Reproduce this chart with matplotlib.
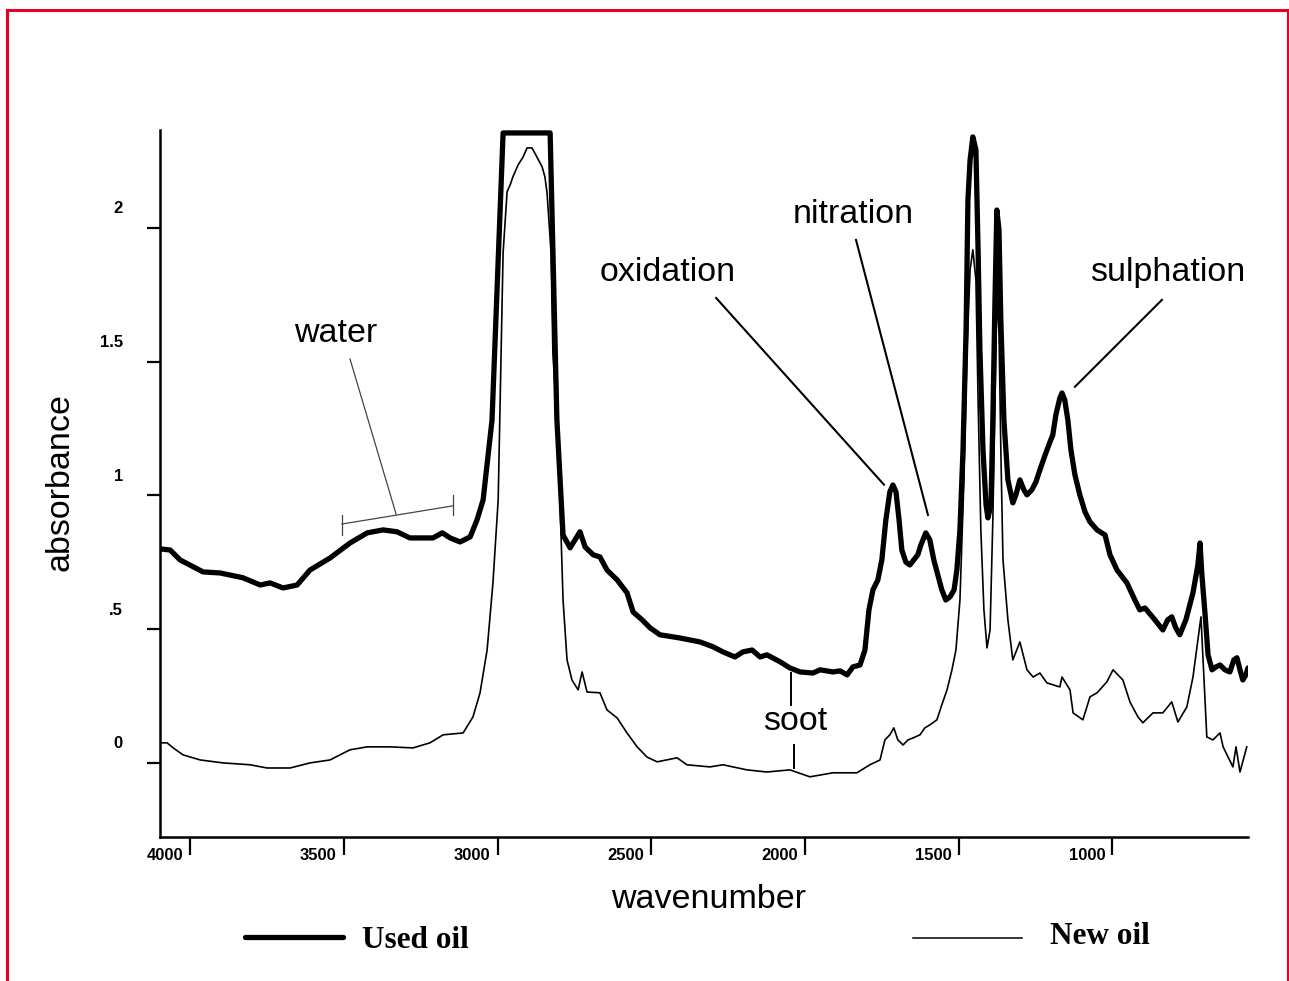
"""IR spectrum of new vs used engine oil."""

import matplotlib
matplotlib.use("Agg")
import matplotlib.pyplot as plt
from matplotlib import font_manager
from matplotlib.lines import Line2D
from matplotlib.transforms import offset_copy

# ---- data (wavenumber, absorbance) ----
used_wn = [4098, 4065, 4033, 3990, 3958, 3902, 3828, 3772, 3740, 3698, 3652, 3610,
           3545, 3480, 3424, 3372, 3327, 3285, 3210, 3180, 3154, 3122, 3089, 3067,
           3047, 3018, 2982, 2829, 2807, 2787, 2764, 2748, 2732, 2715, 2689, 2667,
           2644, 2611, 2579, 2559, 2530, 2504, 2472, 2407, 2341, 2299, 2267, 2228,
           2202, 2172, 2146, 2124, 2081, 2049, 2016, 1974, 1951, 1909, 1886, 1863,
           1844, 1821, 1805, 1792, 1779, 1763, 1750, 1737, 1724, 1714, 1704, 1694,
           1685, 1672, 1659, 1646, 1633, 1623, 1607, 1594, 1581, 1568, 1555, 1542,
           1528, 1515, 1506, 1496, 1486, 1476, 1470, 1463, 1454, 1444, 1437, 1431,
           1421, 1411, 1405, 1395, 1389, 1382, 1376, 1369, 1363, 1353, 1340, 1324,
           1314, 1301, 1288, 1278, 1262, 1249, 1236, 1219, 1203, 1194, 1184, 1171,
           1164, 1155, 1145, 1135, 1122, 1106, 1089, 1073, 1050, 1024, 1008, 985,
           953, 927, 911, 894, 878, 862, 836, 820, 807, 794, 781, 761, 738, 722,
           715, 709, 699, 689, 676, 663, 650, 634, 618, 605, 595, 585, 576, 566, 559]
used_abs = [0.800, 0.796, 0.759, 0.733, 0.714, 0.710, 0.692, 0.665, 0.673, 0.654, 0.665, 0.721,
            0.766, 0.822, 0.860, 0.871, 0.864, 0.841, 0.841, 0.860, 0.841, 0.826, 0.845, 0.908,
            0.983, 1.282, 2.355, 2.355, 1.282, 0.852, 0.804, 0.834, 0.864, 0.807, 0.778, 0.770,
            0.721, 0.684, 0.636, 0.564, 0.535, 0.505, 0.479, 0.467, 0.452, 0.434, 0.415, 0.396,
            0.415, 0.422, 0.396, 0.404, 0.378, 0.355, 0.340, 0.336, 0.348, 0.340, 0.344, 0.329,
            0.359, 0.366, 0.422, 0.572, 0.647, 0.684, 0.759, 0.908, 1.013, 1.039, 1.013, 0.908,
            0.796, 0.751, 0.740, 0.759, 0.778, 0.815, 0.860, 0.834, 0.759, 0.703, 0.647, 0.609,
            0.621, 0.647, 0.721, 0.871, 1.170, 1.619, 2.105, 2.254, 2.340, 2.292, 1.918, 1.544,
            1.170, 0.964, 0.916, 0.964, 1.282, 1.731, 2.067, 1.993, 1.656, 1.282, 1.058, 0.972,
            1.002, 1.058, 1.021, 1.002, 1.021, 1.050, 1.095, 1.151, 1.200, 1.226, 1.301, 1.364,
            1.383, 1.357, 1.282, 1.170, 1.077, 1.002, 0.938, 0.901, 0.871, 0.852, 0.778, 0.721,
            0.673, 0.609, 0.572, 0.579, 0.557, 0.535, 0.497, 0.535, 0.546, 0.505, 0.479, 0.535,
            0.636, 0.740, 0.822, 0.703, 0.561, 0.404, 0.348, 0.359, 0.366, 0.348, 0.340, 0.385,
            0.393, 0.348, 0.310, 0.329, 0.355]

new_wn = [4098, 4075, 4055, 4023, 3967, 3893, 3805, 3750, 3675, 3610, 3545, 3480,
          3424, 3350, 3275, 3220, 3177, 3112, 3080, 3057, 3034, 3015, 2998, 2992,
          2982, 2969, 2959, 2950, 2933, 2923, 2917, 2904, 2888, 2872, 2855, 2846,
          2839, 2826, 2820, 2807, 2797, 2787, 2774, 2758, 2738, 2725, 2709, 2667,
          2644, 2611, 2579, 2546, 2514, 2481, 2416, 2384, 2309, 2267, 2189, 2124,
          2049, 1984, 1909, 1831, 1789, 1756, 1740, 1724, 1711, 1698, 1681, 1665,
          1649, 1626, 1610, 1594, 1571, 1555, 1538, 1522, 1509, 1496, 1483, 1473,
          1463, 1454, 1444, 1437, 1428, 1418, 1408, 1398, 1389, 1382, 1376, 1369,
          1363, 1356, 1340, 1324, 1301, 1278, 1258, 1236, 1213, 1171, 1164, 1138,
          1128, 1096, 1073, 1050, 1018, 998, 966, 943, 917, 901, 868, 836,
          807, 787, 758, 738, 712, 693, 673, 650, 640, 608, 598, 585, 563]
new_abs = [0.075, 0.075, 0.056, 0.030, 0.011, 0.000, -0.007, -0.019, -0.019, 0.000, 0.011, 0.049,
           0.060, 0.060, 0.056, 0.075, 0.105, 0.112, 0.172, 0.262, 0.422, 0.673, 0.983, 1.331,
           1.907, 2.135, 2.161, 2.191, 2.236, 2.254, 2.265, 2.299, 2.299, 2.265, 2.228, 2.191,
           2.131, 1.907, 1.533, 1.282, 0.983, 0.609, 0.385, 0.310, 0.273, 0.340, 0.265, 0.262,
           0.198, 0.168, 0.112, 0.060, 0.022, 0.004, 0.019, -0.007, -0.015, -0.007, -0.026, -0.034,
           -0.026, -0.052, -0.037, -0.037, -0.007, 0.011, 0.086, 0.105, 0.131, 0.086, 0.067, 0.086,
           0.093, 0.105, 0.131, 0.142, 0.161, 0.217, 0.273, 0.348, 0.422, 0.609, 1.058, 1.544,
           1.843, 1.918, 1.806, 1.357, 0.871, 0.572, 0.430, 0.497, 0.908, 1.357, 1.731, 1.619,
           1.170, 0.759, 0.535, 0.385, 0.452, 0.348, 0.321, 0.336, 0.299, 0.284, 0.321, 0.273,
           0.187, 0.161, 0.247, 0.262, 0.303, 0.348, 0.310, 0.228, 0.172, 0.150, 0.187, 0.187,
           0.228, 0.153, 0.209, 0.321, 0.546, 0.097, 0.086, 0.112, 0.060, -0.015, 0.060, -0.034, 0.060]

x_ticks = [4000, 3500, 3000, 2500, 2000, 1500, 1000]
y_ticks = [0, 0.5, 1, 1.5, 2]
y_tick_labels = ["0", ".5", "1", "1.5", "2"]

# annotation labels: text, text position, leader line (wn, abs) start/end
labels = ["water", "oxidation", "nitration", "sulphation"]
label_pos = [(3528, 1.607), (2446, 1.832), (1844, 2.049), (820, 1.832)]
leader_from = [(3480, 1.51), (2289, 1.738), (1834, 1.955), (839, 1.731)]
leader_to = [(3330, 0.93), (1743, 1.04), (1600, 0.927), (1122, 1.406)]
water_band = (3506, 0.893, 3145, 0.961)
soot_wn = 2045
soot_upper = (0.336, 0.217)
soot_lower = (0.067, -0.019)

# ---- fonts ----
try:
    font_manager.findfont("Liberation Sans Narrow", fallback_to_default=False)
    ann_family, ann_size = "Liberation Sans Narrow", 28
except ValueError:
    ann_family, ann_size = "Liberation Sans", 24.5

fig = plt.figure(figsize=(12.89, 9.81), dpi=100)
fig.patch.set_facecolor("white")
ax = fig.add_axes([160 / 1289, 1 - 837 / 981, 1088 / 1289, 707 / 981])

ax.plot(new_wn, new_abs, color="black", linewidth=1.2, solid_joinstyle="round")
ax.plot(used_wn, used_abs, color="black", linewidth=3.8, solid_joinstyle="round",
        solid_capstyle="round")

ax.set_xlim(4098, 559)
ax.set_ylim(-0.277, 2.366)

for side in ("top", "right"):
    ax.spines[side].set_visible(False)
for side in ("left", "bottom"):
    ax.spines[side].set_linewidth(1.8)

ax.set_xticks(x_ticks)
ax.set_yticks(y_ticks)
ax.set_xticklabels([])
ax.set_yticklabels([])
ax.tick_params(axis="x", direction="out", length=13, width=1.6)
ax.tick_params(axis="y", direction="out", length=9.5, width=1.6)

xt = offset_copy(ax.get_xaxis_transform(), fig=fig, x=-7, y=-18, units="dots")
for t in x_ticks:
    ax.text(t, 0, str(t), transform=xt, ha="right", va="center",
            fontsize=12, fontweight="bold", family="Liberation Sans")
yt = offset_copy(ax.get_yaxis_transform(), fig=fig, x=-37, y=19, units="dots")
for v, s in zip(y_ticks, y_tick_labels):
    ax.text(0, v, s, transform=yt, ha="right", va="center",
            fontsize=12, fontweight="bold", family="Liberation Sans")

fig.text(60 / 1289, 1 - 482 / 981, "absorbance", rotation=90, ha="center", va="center",
         fontsize=ann_size, family=ann_family)
fig.text(709 / 1289, 1 - 900 / 981, "wavenumber", ha="center", va="center",
         fontsize=ann_size, family=ann_family)

# labels and leader lines
for i, (txt, pos) in enumerate(zip(labels, label_pos)):
    ax.text(pos[0], pos[1], txt, ha="center", va="center",
            fontsize=ann_size, family=ann_family)
    lw, col = (0.9, "#444444") if txt == "water" else (1.5, "black")
    ax.plot([leader_from[i][0], leader_to[i][0]], [leader_from[i][1], leader_to[i][1]],
            color=col, linewidth=lw)

# water band bracket
x0, y0, x1, y1 = water_band
ax.plot([x0, x1], [y0, y1], color="#444444", linewidth=0.9)
ax.plot([x0, x0], [y0 - 0.04, y0 + 0.035], color="#444444", linewidth=0.9)
ax.plot([x1, x1], [y1 - 0.035, y1 + 0.04], color="#444444", linewidth=0.9)

# soot marker
ax.plot([soot_wn, soot_wn], soot_upper, color="black", linewidth=1.4)
ax.plot([soot_wn - 10, soot_wn - 10], soot_lower, color="black", linewidth=1.4)
ax.text(2033, 0.153, "soot", ha="center", va="center", fontsize=ann_size, family=ann_family)

# legend drawn under the axis
fig.add_artist(Line2D([245 / 1289, 343 / 1289], [1 - 937 / 981] * 2, transform=fig.transFigure,
                      color="black", linewidth=3.8, solid_capstyle="round"))
fig.text(362 / 1289, 1 - 940 / 981, "Used oil", ha="left", va="center", fontsize=22.5,
         fontweight="bold", family="Liberation Serif")
fig.add_artist(Line2D([913 / 1289, 1022 / 1289], [1 - 938 / 981] * 2, transform=fig.transFigure,
                      color="black", linewidth=1.1))
fig.text(1050 / 1289, 1 - 937 / 981, "New oil", ha="left", va="center", fontsize=22.5,
         fontweight="bold", family="Liberation Serif")

# red frame around the figure (open at the bottom)
red = "#E4002B"
fig.add_artist(Line2D([6.5 / 1289, 6.5 / 1289, 1287.5 / 1289, 1287.5 / 1289],
                      [0, 1 - 10 / 981, 1 - 10 / 981, 0], transform=fig.transFigure,
                      color=red, linewidth=2.2, solid_joinstyle="miter"))

fig.savefig("out.png", dpi=100)
plt.close(fig)
